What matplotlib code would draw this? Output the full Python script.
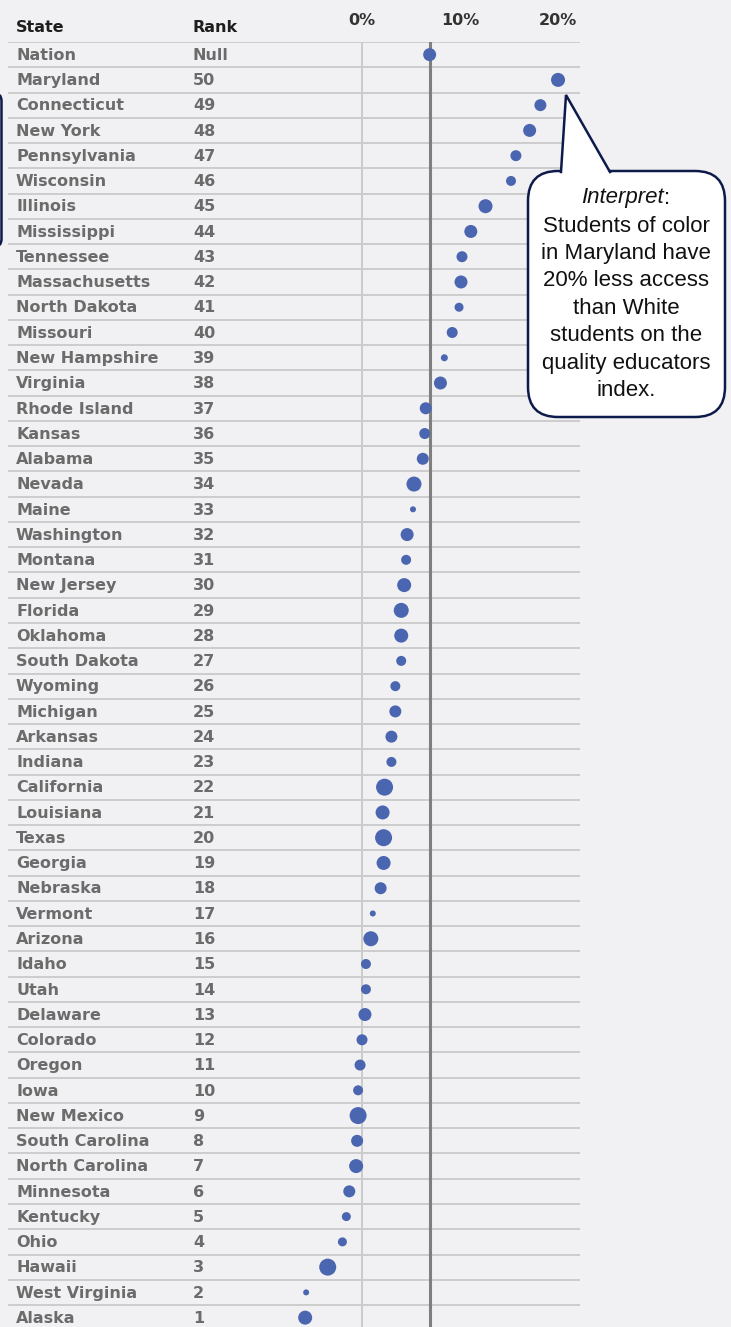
import numpy as np
import matplotlib.pyplot as plt
from matplotlib.patches import FancyBboxPatch, Polygon
from matplotlib.lines import Line2D
from matplotlib.transforms import Affine2D, blended_transform_factory

# ---- data ----
states = ["Nation", "Maryland", "Connecticut", "New York", "Pennsylvania", "Wisconsin",
          "Illinois", "Mississippi", "Tennessee", "Massachusetts", "North Dakota",
          "Missouri", "New Hampshire", "Virginia", "Rhode Island", "Kansas", "Alabama",
          "Nevada", "Maine", "Washington", "Montana", "New Jersey", "Florida",
          "Oklahoma", "South Dakota", "Wyoming", "Michigan", "Arkansas", "Indiana",
          "California", "Louisiana", "Texas", "Georgia", "Nebraska", "Vermont",
          "Arizona", "Idaho", "Utah", "Delaware", "Colorado", "Oregon", "Iowa",
          "New Mexico", "South Carolina", "North Carolina", "Minnesota", "Kentucky",
          "Ohio", "Hawaii", "West Virginia", "Alaska"]
ranks = ["Null"] + [str(r) for r in range(50, 0, -1)]

# access gap, percent
gap = [6.9, 20.0, 18.2, 17.1, 15.7, 15.2, 12.6, 11.1, 10.2, 10.1, 9.9,
       9.2, 8.4, 8.0, 6.5, 6.4, 6.2, 5.3, 5.2, 4.6, 4.5, 4.3, 4.0,
       4.0, 4.0, 3.4, 3.4, 3.0, 3.0, 2.3, 2.1, 2.2, 2.2, 1.9, 1.1,
       0.9, 0.4, 0.4, 0.3, 0.0, -0.2, -0.4, -0.4, -0.5, -0.6, -1.3, -1.6,
       -2.0, -3.5, -5.7, -5.8]

# dot diameter in pixels
dot_px = [13, 14, 12, 13, 11, 10, 14, 13, 11, 13, 9,
          11, 7, 13, 12, 11, 12, 15, 6, 13, 10, 14, 15,
          14, 10, 10, 12, 12, 10, 17, 14, 17, 14, 12, 6,
          15, 10, 10, 13, 11, 11, 10, 17, 12, 14, 12, 9,
          9, 17, 6, 14]

note_lines = ["Students of color", "in Maryland have", "20% less access",
              "than White", "students on the", "quality educators", "index."]

BG = "#f1f0f2"
BLUE = "#4b66b0"
NAVY = "#0d1b4a"
GRID = "#cacaca"

W, H = 731, 1327
fig = plt.figure(figsize=(W / 100, H / 100), dpi=100, facecolor=BG)
# pixel coordinates, origin top-left
px = Affine2D().scale(0.01, -0.01).translate(0, H / 100) + fig.dpi_scale_trans

ax = fig.add_axes([8 / W, 0, 572 / W, 1 - 42 / H])
ax.set_facecolor(BG)
ax.set_xlim(-36.12, 22.24)
ax.set_ylim(len(states) - 0.63, -0.5)
for s in ax.spines.values():
    s.set_visible(False)

y = np.arange(len(states))
for yy in y:
    ax.axhline(yy - 0.5, color=GRID, lw=1.3, zorder=1)
ax.axvline(0, color=GRID, lw=1.4, zorder=1)
ax.axvline(gap[0], color="#7f7f7f", lw=2.2, zorder=2)

ax.scatter(gap, y, s=(np.array(dot_px) * 0.72) ** 2, color=BLUE,
           edgecolors="none", zorder=3)

ax.set_yticks([])
ax.xaxis.tick_top()
ax.set_xticks([0, 10, 20])
ax.set_xticklabels(["0%", "10%", "20%"], fontsize=11.5, fontweight="bold", color="#333333")
ax.tick_params(axis="x", length=0, pad=10)

tr = blended_transform_factory(ax.transAxes, ax.transData)
for i in range(len(states)):
    ax.text(8 / 572, y[i] + 0.03, states[i], transform=tr, va="center", ha="left",
            fontsize=11.5, fontweight="bold", color="#6b6b6b")
    ax.text(185 / 572, y[i] + 0.03, ranks[i], transform=tr, va="center", ha="left",
            fontsize=11.5, fontweight="bold", color="#6b6b6b")

fig.text(16, 28, "State", transform=px, va="center", ha="left",
         fontsize=11.5, fontweight="bold", color="#1e1e1e")
fig.text(193, 28, "Rank", transform=px, va="center", ha="left",
         fontsize=11.5, fontweight="bold", color="#1e1e1e")

# edge of a box cut off on the left
fig.patches.append(FancyBboxPatch((-60, 93), 61.5, 154, boxstyle="round,pad=0,rounding_size=8",
                                  transform=px, facecolor="none", edgecolor=NAVY, lw=1.8, zorder=5))

# callout
fig.patches.append(FancyBboxPatch((528, 171), 197, 246, boxstyle="round,pad=0,rounding_size=30",
                                  transform=px, facecolor="white", edgecolor=NAVY, lw=1.8, zorder=5))
fig.patches.append(Polygon([(561, 174), (566, 95), (610, 174)], closed=True, transform=px,
                           facecolor="white", edgecolor="none", zorder=6))
fig.lines.append(Line2D([561, 566, 610], [172, 95, 172], transform=px, color=NAVY,
                        lw=1.8, zorder=7, solid_joinstyle="miter"))

fig.text(664, 198, "Interpret", transform=px, ha="right", va="center", fontsize=16,
         style="italic", family="Liberation Sans", color="#111111", zorder=8)
fig.text(664, 198, ":", transform=px, ha="left", va="center", fontsize=16,
         family="Liberation Sans", color="#111111", zorder=8)
for k, line in enumerate(note_lines):
    fig.text(626, 226 + 27.4 * k, line, transform=px, ha="center", va="center", fontsize=16,
             family="Liberation Sans", color="#111111", zorder=8)

fig.savefig("out.png", dpi=100, facecolor=BG)
